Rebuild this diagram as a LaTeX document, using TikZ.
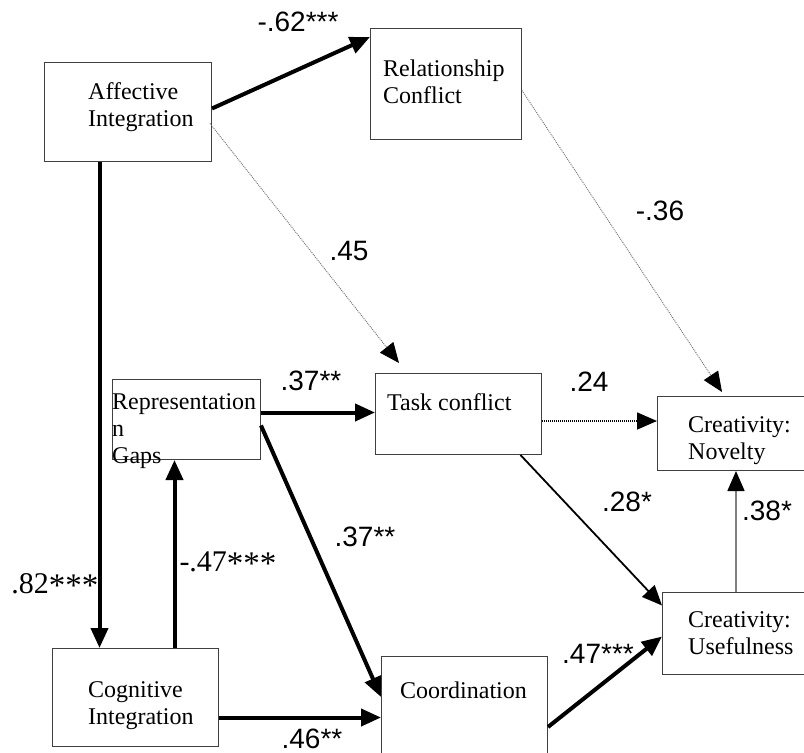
\documentclass[tikz,border=0pt]{standalone}
\usepackage{fontspec}
\setmainfont{Liberation Serif}
\newfontfamily\arialfont{Liberation Sans}
\newfontfamily\timesfont{Liberation Serif}
\usetikzlibrary{arrows.meta,calc}
\tikzset{
  box/.style={draw=black!75, line width=1pt, fill=white, inner sep=0pt, anchor=north west},
  boxtext/.style={anchor=north west, inner sep=0pt, align=left, font=\timesfont\fontsize{24}{27}\selectfont},
  sanslab/.style={inner sep=0pt, font=\arialfont\fontsize{28}{30}\selectfont},
  seriflab/.style={inner sep=0pt, font=\timesfont\fontsize{30}{32}\selectfont},
  tip/.style={-{Triangle[length=20pt,width=17pt,color=black]}},
  heavy/.style={tip, line width=4pt},
  plain/.style={tip, line width=1.8pt},
  greyline/.style={tip, line width=1.6pt, draw=black!50},
  faint/.style={tip, line width=0.9pt, draw=black!55, dash pattern=on 1pt off 1pt},
  dotline/.style={tip, line width=1.6pt, dash pattern=on 1.2pt off 0.8pt}
}
\newcommand{\lowstars}[1]{\raisebox{-0.12em}{\fontsize{33}{33}\selectfont #1}}
\begin{document}
\begin{tikzpicture}[x=1pt,y=-1pt]
\useasboundingbox (0,0) rectangle (804,753);
\clip (0,0) rectangle (804,753);
% boxes
\node[box, minimum width=167pt, minimum height=99pt]  (ai)  at (44,62)  {};
\node[box, minimum width=151pt, minimum height=111pt] (rc)  at (370,28) {};
\node[box, minimum width=148pt, minimum height=80pt]  (rg)  at (112,379) {};
\node[box, minimum width=166pt, minimum height=81pt]  (tc)  at (375,373) {};
\node[box, minimum width=160pt, minimum height=74pt]  (nov) at (657,396) {};
\node[box, minimum width=155pt, minimum height=82pt]  (use) at (662,592) {};
\node[box, minimum width=166pt, minimum height=98pt]  (ci)  at (52,648) {};
\node[box, minimum width=166pt, minimum height=110pt] (co)  at (381,656) {};
% box texts
\node[boxtext] (ai-t)  at (88,82.5)   {Affective\\Integration};
\node[boxtext] (rc-t)  at (383,59.5)  {Relationship\\Conflict};
\node[boxtext] (rg-t)  at (112,393.5) {Representation\\n\\Gaps};
\node[boxtext] (tc-t)  at (387,393.5) {Task conflict};
\node[boxtext] (nov-t) at (688,416.5) {Creativity:\\Novelty};
\node[boxtext] (use-t) at (688,611.5) {Creativity:\\Usefulness};
\node[boxtext] (ci-t)  at (88,681.5)  {Cognitive\\Integration};
\node[boxtext] (co-t)  at (400,681.5) {Coordination};
% connectors
\draw[heavy] ([yshift=3.5pt]ai.east) -- ([yshift=-9pt]rc.north west);
\draw[faint] ([xshift=-2pt,yshift=-11.5pt]ai.east) -- ([xshift=24pt,yshift=10pt]tc.north west);
\draw[faint] ([yshift=-6.5pt]rc.east) -- ([xshift=65pt,yshift=4pt]nov.north west);
\draw[dotline] ([yshift=-7pt]tc.east) -- ([yshift=-7pt]tc.east -| nov.west);
\draw[plain] ([xshift=62pt]tc.south) -- ([yshift=28pt]use.west);
\draw[greyline] ([xshift=-4pt]use.north) -- ([xshift=-4pt]use.north |- nov.south);
\draw[heavy] ([yshift=-71pt]co.north east) -- ([yshift=-3pt]use.west);
\draw[heavy] ([yshift=7pt]rg.east) -- ([yshift=7pt]rg.east -| tc.west);
\draw[heavy] ([yshift=-6pt]rg.east) -- ([yshift=-41pt]co.north west);
\draw[heavy] ([yshift=-20pt]ci.east) -- ([yshift=-20pt]ci.east -| co.west);
\draw[heavy] ([xshift=39pt]ci.north) -- ([xshift=39pt]ci.north |- rg.south);
\draw[heavy] ([xshift=-28.5pt]ai.south) -- ([xshift=-28.5pt]ai.south |- ci.north);
% labels
\node[sanslab]  (l1)  at (298,22)  {-.62***};
\node[sanslab]  (l2)  at (349,251) {.45};
\node[sanslab]  (l3)  at (660,211) {-.36};
\node[sanslab]  (l4)  at (311,381) {.37**};
\node[sanslab]  (l5)  at (589,382) {.24};
\node[sanslab]  (l6)  at (365,537) {.37**};
\node[sanslab]  (l7)  at (627,502) {.28*};
\node[sanslab]  (l8)  at (767,511) {.38*};
\node[sanslab]  (l9)  at (598,654) {.47***};
\node[sanslab]  (l10) at (312,739) {.46**};
\node[seriflab] (l11) at (55,585)  {.82\lowstars{***}};
\node[seriflab] (l12) at (228,563) {-.47\lowstars{***}};
\end{tikzpicture}
\end{document}
